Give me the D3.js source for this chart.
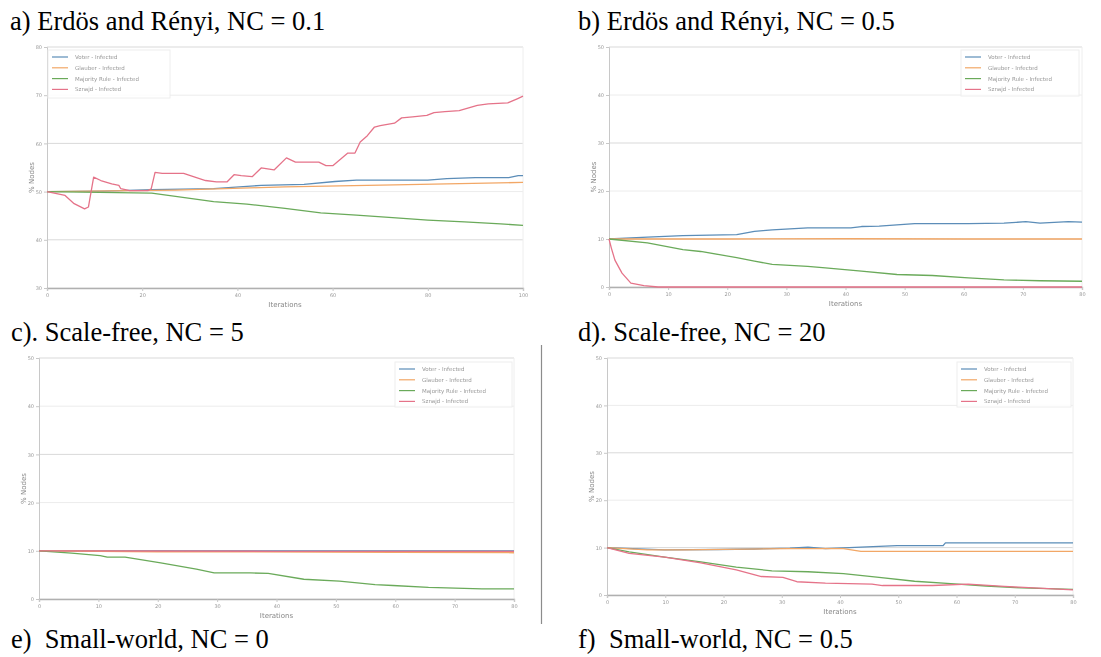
<!DOCTYPE html>
<html>
<head>
<meta charset="utf-8">
<script src="https://cdn.jsdelivr.net/npm/d3@7/dist/d3.min.js"></script>
<style>
  html, body { margin: 0; padding: 0; background: #fff; }
  svg { display: block; }
  .title { font-family: "Liberation Serif", "Times New Roman", serif; font-size: 26.5px; fill: #000; white-space: pre; }
  .tick text { font-family: "DejaVu Sans", sans-serif; font-size: 5px; fill: #999; }
  .axlabel { font-family: "DejaVu Sans", sans-serif; font-size: 7px; fill: #888; }
  .legtext { font-family: "DejaVu Sans", sans-serif; font-size: 5.5px; fill: #999; }
</style>
</head>
<body>
<svg id="chart" width="1101" height="657"></svg>
<script>
// ---------- DATA ----------
const seriesNames = ["Voter - Infected", "Glauber - Infected", "Majority Rule - Infected", "Sznajd - Infected"];
const seriesColors = ["#5b8db8", "#f2a766", "#6aaa5a", "#e57389"];

const titles = [
  "a) Erdös and Rényi, NC = 0.1",
  "b) Erdös and Rényi, NC = 0.5",
  "c). Scale-free, NC = 5",
  "d). Scale-free, NC = 20",
  "e)  Small-world, NC = 0",
  "f)  Small-world, NC = 0.5"
];

// panel a
const aXTicks = [0, 20, 40, 60, 80, 100];
const aYTicks = [30, 40, 50, 60, 70, 80];
const aVoter = [[0,50],[12,50.1],[22,50.4],[35,50.6],[45,51.3],[54,51.5],[60.5,52.1],[65,52.4],[80,52.4],[84,52.7],[90,52.9],[97,52.9],[99,53.3],[100,53.3]];
const aGlauber = [[0,50],[27,50.3],[50,51.0],[73,51.4],[100,51.9]];
const aMajority = [[0,50],[22,49.7],[27,49.0],[35,47.9],[42,47.4],[50,46.5],[57.5,45.6],[65,45.1],[72.6,44.6],[80,44.1],[87.7,43.7],[95.3,43.3],[100,43.0]];
const aSznajd = [[0,50],[3.8,49.2],[5.7,47.5],[7.9,46.4],[8.7,46.8],[9.8,53.0],[11.3,52.3],[13.6,51.6],[15.1,51.3],[15.5,50.6],[17.4,50.2],[21.2,50.2],[21.9,50.6],[22.7,54.0],[24.2,53.8],[28.7,53.8],[33.3,52.3],[35.6,52.0],[37.8,52.0],[39.3,53.5],[40.8,53.3],[43.1,53.1],[45,54.9],[47.7,54.5],[50.3,57.0],[52.2,56.1],[57.1,56.1],[58.6,55.4],[60.1,55.4],[63.2,58.0],[64.7,58.0],[65.8,60.3],[67.3,61.6],[68.8,63.4],[70,63.7],[73,64.2],[74.5,65.3],[76.8,65.5],[79.8,65.8],[81.3,66.4],[83.6,66.6],[86.6,66.8],[90.4,67.9],[92.7,68.2],[96.8,68.4],[98.9,69.3],[100,69.8]];

// panel b
const bXTicks = [0, 10, 20, 30, 40, 50, 60, 70, 80];
const bYTicks = [0, 10, 20, 30, 40, 50];
const bVoter = [[0,10],[6.5,10.4],[12.5,10.7],[21.6,10.9],[24.6,11.6],[27.6,11.9],[33.6,12.3],[40.9,12.3],[42.7,12.6],[45.7,12.7],[51.7,13.2],[60.8,13.2],[66.8,13.3],[70.5,13.6],[72.9,13.3],[77.7,13.6],[80,13.5]];
const bGlauber = [[0,10],[20,10],[40,10.05],[60,10],[80,10]];
const bMajority = [[0,10],[6.5,9.2],[12.5,7.8],[15.5,7.4],[21.6,6.1],[24.6,5.4],[27.6,4.7],[33.6,4.3],[36.6,4.0],[42.7,3.3],[48.7,2.6],[54.7,2.4],[60.8,1.9],[66.8,1.5],[72.9,1.3],[80,1.2]];
const bSznajd = [[0,10],[0.4,8.1],[1.0,5.6],[2.2,2.9],[3.7,0.8],[5.9,0.3],[8.3,0],[80,0]];

// panel c
const cXTicks = [0, 10, 20, 30, 40, 50, 60, 70, 80];
const cYTicks = [0, 10, 20, 30, 40, 50];
const cVoter = [[0,10],[40,10],[80,10]];
const cGlauber = [[0,10],[20,9.8],[60,9.7],[80,9.6]];
const cMajority = [[0,10],[5.5,9.5],[10.3,9.0],[11.5,8.7],[14.5,8.7],[20.5,7.5],[26.5,6.2],[29.5,5.4],[35.6,5.4],[38.6,5.3],[44.6,4.1],[50.6,3.7],[56.6,3.0],[59.6,2.8],[65.6,2.4],[68.6,2.3],[74.6,2.1],[80,2.1]];
const cSznajd = [[0,10],[40,9.9],[80,9.9]];

// panel d
const dXTicks = [0, 10, 20, 30, 40, 50, 60, 70, 80];
const dYTicks = [0, 10, 20, 30, 40, 50];
const dVoter = [[0,10],[9.9,9.5],[19.1,9.6],[25.3,9.7],[31.4,9.9],[34.5,10.1],[37.5,9.8],[43.6,10.1],[49.8,10.4],[57.7,10.4],[58.1,11.0],[80,11.0]];
const dGlauber = [[0,10],[6.9,9.5],[13,9.5],[31.4,9.8],[40.6,9.8],[43.6,9.2],[80,9.2]];
const dMajority = [[0,10],[3.8,9.1],[9.9,8.0],[16.1,7.0],[22.2,5.9],[28.3,5.1],[34.5,4.9],[40.6,4.5],[46.7,3.7],[52.8,2.9],[59,2.4],[65.1,1.9],[71.2,1.5],[80,1.2]];
const dSznajd = [[0,10],[3.8,8.8],[9.9,8.0],[16.1,6.8],[22.2,5.3],[26.5,3.9],[30.2,3.7],[32.6,2.8],[37.5,2.5],[45.5,2.3],[47.3,2.0],[55.9,2.0],[62,2.3],[68.2,1.8],[80,1.1]];

// ---------- LAYOUT ----------
const svg = d3.select("#chart");
const defs = svg.append("defs");
defs.append("filter").attr("id", "soft").append("feGaussianBlur").attr("stdDeviation", 0.45);

const panels = [
  { x0: 47, x1: 523, y0: 47, y1: 288, xt: aXTicks, yt: aYTicks, s: [aVoter, aGlauber, aMajority, aSznajd], leg: { x: 48, y: 50, w: 122, h: 48, right: false } },
  { x0: 609, x1: 1082, y0: 47, y1: 287, xt: bXTicks, yt: bYTicks, s: [bVoter, bGlauber, bMajority, bSznajd], leg: { x: 961, y: 50, w: 118, h: 46, right: true } },
  { x0: 39, x1: 514, y0: 358, y1: 599, xt: cXTicks, yt: cYTicks, s: [cVoter, cGlauber, cMajority, cSznajd], leg: { x: 395, y: 362, w: 117, h: 45, right: true } },
  { x0: 607, x1: 1073, y0: 358, y1: 595, xt: dXTicks, yt: dYTicks, s: [dVoter, dGlauber, dMajority, dSznajd], leg: { x: 957, y: 362, w: 114, h: 45, right: true } }
];

panels.forEach((p) => {
  const g = svg.append("g").attr("filter", "url(#soft)");
  const x = d3.scaleLinear().domain(d3.extent(p.xt)).range([p.x0, p.x1]);
  const y = d3.scaleLinear().domain(d3.extent(p.yt)).range([p.y1, p.y0]);

  // gridlines
  g.append("g").selectAll("line").data(p.yt).join("line")
    .attr("x1", p.x0).attr("x2", p.x1)
    .attr("y1", d => y(d)).attr("y2", d => y(d))
    .attr("stroke", (d, i) => i % 2 === 1 ? "#d9d9d9" : "#ececec").attr("stroke-width", 1);
  g.append("line").attr("x1", p.x1).attr("x2", p.x1).attr("y1", p.y0).attr("y2", p.y1)
    .attr("stroke", "#eeeeee");

  // axes
  const yAxis = g.append("g").attr("transform", `translate(${p.x0},0)`)
    .call(d3.axisLeft(y).tickValues(p.yt).tickSize(3).tickPadding(2));
  yAxis.select(".domain").attr("stroke", "#c8c8c8");
  yAxis.selectAll(".tick line").attr("stroke", "#c8c8c8");
  const xAxis = g.append("g").attr("transform", `translate(0,${p.y1})`)
    .call(d3.axisBottom(x).tickValues(p.xt).tickSize(3).tickPadding(2));
  xAxis.select(".domain").attr("stroke", "#b0b0b0").attr("stroke-width", 1.3);
  xAxis.selectAll(".tick line").attr("stroke", "#c8c8c8");

  g.append("text").attr("class", "axlabel")
    .attr("x", (p.x0 + p.x1) / 2).attr("y", p.y1 + 19)
    .attr("text-anchor", "middle").text("Iterations");
  g.append("text").attr("class", "axlabel")
    .attr("transform", `translate(${p.x0 - 13},${(p.y0 + p.y1) / 2 + 10}) rotate(-90)`)
    .attr("text-anchor", "middle").text("% Nodes");

  // lines
  const line = d3.line().x(d => x(d[0])).y(d => y(d[1]));
  p.s.forEach((data, i) => {
    g.append("path").datum(data).attr("d", line)
      .attr("fill", "none").attr("stroke", seriesColors[i]).attr("stroke-width", 1.3)
      .attr("stroke-linejoin", "round");
  });

  // legend
  const L = p.leg;
  const lg = g.append("g");
  lg.append("rect").attr("x", L.x).attr("y", L.y).attr("width", L.w).attr("height", L.h)
    .attr("fill", "#fff").attr("fill-opacity", 0.85).attr("stroke", "#eeeeee");
  seriesNames.forEach((n, i) => {
    const yy = L.y + 7 + i * 10.8;
    lg.append("line").attr("x1", L.x + 4).attr("x2", L.x + 20).attr("y1", yy).attr("y2", yy)
      .attr("stroke", seriesColors[i]).attr("stroke-width", 1.2);
    lg.append("text").attr("class", "legtext").attr("x", L.x + 27).attr("y", yy + 2).text(n);
  });
});

// separator line
svg.append("line").attr("x1", 541.5).attr("x2", 541.5).attr("y1", 345).attr("y2", 624)
  .attr("stroke", "#8c8c8c").attr("stroke-width", 1.2);

// titles
const titlePos = [[10, 30], [578, 30], [11, 341], [578, 341], [11, 648], [578, 648]];
svg.selectAll("text.title").data(titles).join("text")
  .attr("class", "title")
  .attr("x", (d, i) => titlePos[i][0]).attr("y", (d, i) => titlePos[i][1])
  .text(d => d);
</script>
</body>
</html>
